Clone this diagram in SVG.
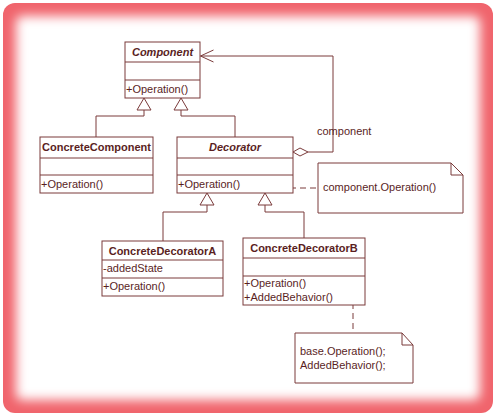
<svg xmlns="http://www.w3.org/2000/svg" width="496" height="418" viewBox="0 0 496 418">
<defs>
<filter id="blur" x="-10%" y="-10%" width="120%" height="120%"><feGaussianBlur stdDeviation="5.5"/></filter>
<marker id="open" markerWidth="14" markerHeight="14" refX="13" refY="7" orient="auto" markerUnits="userSpaceOnUse"><path d="M0,1 L13,7 L0,13" fill="none" stroke="#7a3a3a" stroke-width="1"/></marker>
</defs>
<style>
.box{fill:#fff;stroke:#7a3a3a;stroke-width:1}
.ln{fill:none;stroke:#7a3a3a;stroke-width:1}
.dash{fill:none;stroke:#7a3a3a;stroke-width:1;stroke-dasharray:6,4}
.tri{fill:#fff;stroke:#7a3a3a;stroke-width:1}
.t{font-family:"Liberation Sans",Arial,sans-serif;font-size:11px;fill:#5a1e1e}
.b{font-weight:bold;text-anchor:middle}
.i{font-style:italic}
</style>
<rect x="3" y="3" width="490" height="410" rx="12" fill="#f0646c"/>
<rect x="16" y="16" width="464" height="384" rx="6" fill="#fff" filter="url(#blur)"/>

<g id="connectors">
<path class="ln" d="M144,110 V116 H96 V137"/>
<path class="ln" d="M181,110 V116 H235 V137"/>
<path class="tri" d="M144,98 L137,110 H151 Z"/>
<path class="tri" d="M181,98 L174,110 H188 Z"/>
<path class="ln" d="M207,205 V212 H163 V241"/>
<path class="ln" d="M265,205 V212 H304 V238"/>
<path class="tri" d="M207,193 L200,205 H214 Z"/>
<path class="tri" d="M265,193 L258,205 H272 Z"/>
<path class="ln" d="M308,152 H333 V56 H200.5" marker-end="url(#open)"/>
<path class="tri" d="M293,152 L300,148 L308,152 L300,156 Z"/>
<text class="t" x="317" y="135">component</text>
<path class="dash" d="M280,188 H318"/>
<path class="dash" d="M353,283 V333"/>
</g>

<g id="Component">
<rect class="box" x="125" y="42" width="75" height="56"/>
<path class="ln" d="M125,62 H200 M125,80 H200"/>
<text class="t b i" x="162.5" y="56">Component</text>
<text class="t" x="126" y="93">+Operation()</text>
</g>

<g id="ConcreteComponent">
<rect class="box" x="40" y="137" width="113" height="56"/>
<path class="ln" d="M40,158 H153 M40,175 H153"/>
<text class="t b" x="96.5" y="151">ConcreteComponent</text>
<text class="t" x="41" y="188">+Operation()</text>
</g>

<g id="Decorator">
<rect class="box" x="177" y="137" width="116" height="56"/>
<path class="ln" d="M177,158 H293 M177,175 H293"/>
<text class="t b i" x="235" y="151">Decorator</text>
<text class="t" x="178" y="188">+Operation()</text>
</g>

<g id="ConcreteDecoratorA">
<rect class="box" x="102" y="241" width="121" height="55"/>
<path class="ln" d="M102,260 H223 M102,278 H223"/>
<text class="t b" x="162.5" y="255">ConcreteDecoratorA</text>
<text class="t" x="103" y="272">-addedState</text>
<text class="t" x="103" y="290">+Operation()</text>
</g>

<g id="ConcreteDecoratorB">
<rect class="box" x="243" y="238" width="122" height="67"/>
<path class="ln" d="M243,258 H365 M243,276 H365"/>
<text class="t b" x="304" y="252">ConcreteDecoratorB</text>
<text class="t" x="244" y="287">+Operation()</text>
<text class="t" x="244" y="301">+AddedBehavior()</text>
</g>

<g id="note1">
<path class="box" d="M318,163 H451 L463,175 V213 H318 Z"/>
<path class="ln" d="M451,163 V175 H463"/>
<text class="t" x="323" y="191">component.Operation()</text>
</g>

<g id="note2">
<path class="box" d="M295,333 H402 L413,345 V383 H295 Z"/>
<path class="ln" d="M402,333 V345 H413"/>
<text class="t" x="300" y="355">base.Operation();</text>
<text class="t" x="300" y="369">AddedBehavior();</text>
</g>
</svg>
